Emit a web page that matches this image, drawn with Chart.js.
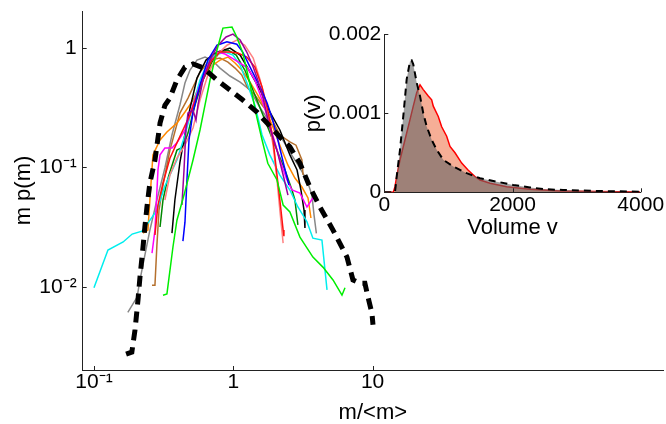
<!DOCTYPE html>
<html>
<head>
<meta charset="utf-8">
<script src="https://cdn.jsdelivr.net/npm/chart.js@4.4.1/dist/chart.umd.min.js"></script>
<style>
    body { margin: 0; background: #fff; }
    #wrap { position: relative; width: 666px; height: 424px; }
    #wrap canvas { position: absolute; left: 0; top: 0; }
</style>
</head>
<body>
<div id="wrap">
    <canvas id="main" width="666" height="424"></canvas>
    <canvas id="inset" width="666" height="424"></canvas>
</div>
<script>
// courbes m p(m) en fonction de m/<m>, points [x, y]
const moyenne = [[0.170,0.00273],[0.187,0.00284],[0.197,0.00434],[0.207,0.00774],[0.214,0.0121],[0.225,0.0215],[0.232,0.0316],[0.240,0.0465],[0.252,0.0738],[0.274,0.115],[0.298,0.234],[0.323,0.33],[0.351,0.38],[0.394,0.537],[0.450,0.689],[0.514,0.731],[0.607,0.68],[0.764,0.537],[0.947,0.443],[1.17,0.365],[1.48,0.290],[1.75,0.234],[2.16,0.179],[2.55,0.148],[3.01,0.108],[3.55,0.068],[4.19,0.0465],[5.20,0.0298],[6.55,0.0177],[7.23,0.0114],[8.11,0.0107],[8.81,0.0107],[9.27,0.0082],[9.90,0.0060],[10.07,0.0048]];
const vert = [[0.313,0.0085],[0.334,0.0087],[0.369,0.0215],[0.394,0.036],[0.443,0.0585],[0.514,0.115],[0.577,0.205],[0.627,0.332],[0.681,0.537],[0.764,0.957],[0.843,1.46],[0.979,1.49],[1.06,1.23],[1.17,0.903],[1.25,0.651],[1.36,0.418],[1.48,0.258],[1.61,0.169],[1.77,0.108],[2.06,0.0782],[2.28,0.0483],[2.55,0.0422],[3.01,0.026],[3.73,0.0177],[4.40,0.0146],[5.20,0.0114],[6.03,0.0085],[6.34,0.0098]];
const cyan = [[0.100,0.0098],[0.126,0.0203],[0.162,0.0237],[0.188,0.0276],[0.221,0.0292],[0.244,0.0341],[0.283,0.0438],[0.323,0.0696],[0.394,0.115],[0.450,0.186],[0.514,0.332],[0.577,0.537],[0.657,0.759],[0.739,0.869],[0.872,0.920],[0.995,0.869],[1.12,0.717],[1.27,0.488],[1.43,0.33],[1.61,0.186],[1.83,0.127],[2.16,0.086],[2.55,0.0645],[2.91,0.0465],[3.38,0.035],[3.73,0.0255],[4.33,0.0246],[4.71,0.0094]];
const bleu = [[0.435,0.0241],[0.450,0.0347],[0.465,0.0782],[0.481,0.169],[0.514,0.290],[0.577,0.488],[0.657,0.789],[0.764,1.05],[0.901,1.12],[1.06,1.07],[1.17,0.920],[1.32,0.689],[1.56,0.469],[1.75,0.345],[1.90,0.258],[2.09,0.169],[2.31,0.104],[2.51,0.071]];
const noir = [[0.363,0.0281],[0.381,0.0532],[0.414,0.11],[0.450,0.19],[0.489,0.31],[0.549,0.557],[0.637,0.789],[0.764,0.920],[0.947,0.994],[1.12,0.869],[1.32,0.626],[1.56,0.443],[1.83,0.290],[2.16,0.205],[2.55,0.127],[2.87,0.0948],[3.06,0.0645],[3.22,0.0438],[3.27,0.031]];
const gris = [[0.175,0.0061],[0.204,0.0082],[0.214,0.0114],[0.232,0.0184],[0.252,0.0298],[0.283,0.0532],[0.323,0.0985],[0.363,0.186],[0.414,0.332],[0.450,0.507],[0.489,0.651],[0.549,0.789],[0.627,0.836],[0.703,0.789],[0.803,0.676],[0.947,0.580],[1.12,0.516],[1.32,0.443],[1.56,0.313],[1.83,0.239],[2.16,0.186],[2.55,0.134],[3.01,0.0985],[3.38,0.0782],[3.67,0.0585],[3.80,0.0398],[3.95,0.028]];
const marron = [[0.261,0.0103],[0.274,0.0103],[0.283,0.0223],[0.293,0.0438],[0.313,0.071],[0.351,0.139],[0.414,0.284],[0.473,0.379],[0.577,0.626],[0.681,0.789],[0.803,0.820],[0.916,0.759],[1.03,0.676],[1.15,0.591],[1.27,0.460],[1.43,0.402],[1.61,0.332],[1.83,0.273],[2.16,0.186],[2.55,0.163],[2.82,0.153],[3.11,0.115],[3.17,0.0861]];
const orange = [[0.225,0.0281],[0.244,0.0298],[0.252,0.0532],[0.265,0.127],[0.298,0.169],[0.334,0.197],[0.394,0.234],[0.450,0.290],[0.514,0.365],[0.577,0.488],[0.637,0.626],[0.715,0.717],[0.803,0.789],[0.916,0.836],[1.03,0.745],[1.15,0.651],[1.32,0.516],[1.50,0.402],[1.69,0.313],[1.90,0.226],[2.16,0.153],[2.47,0.104],[2.77,0.0812],[3.11,0.0683],[3.44,0.0553],[3.61,0.0376]];
const magenta = [[0.261,0.0191],[0.265,0.0191],[0.274,0.0298],[0.288,0.0948],[0.298,0.127],[0.323,0.145],[0.363,0.145],[0.394,0.160],[0.450,0.205],[0.514,0.332],[0.577,0.488],[0.657,0.717],[0.777,0.920],[0.872,0.886],[0.979,0.820],[1.12,0.745],[1.27,0.676],[1.43,0.537],[1.61,0.365],[1.83,0.226],[2.16,0.115],[2.43,0.0782],[2.64,0.0645],[3.01,0.0608],[3.38,0.0465],[3.73,0.0553]];
const violet = [[0.428,0.0483],[0.443,0.0948],[0.457,0.205],[0.473,0.284],[0.514,0.301],[0.540,0.248],[0.558,0.332],[0.606,0.537],[0.681,0.789],[0.777,1.05],[0.888,1.23],[0.995,1.30],[1.12,1.16],[1.25,0.920],[1.39,0.689],[1.50,0.537],[1.63,0.387],[1.83,0.213],[2.06,0.139],[2.28,0.0861],[2.47,0.0585]];
const rouge = [[0.274,0.0271],[0.288,0.0483],[0.313,0.0738],[0.351,0.119],[0.394,0.160],[0.435,0.205],[0.489,0.273],[0.549,0.402],[0.627,0.591],[0.703,0.789],[0.803,0.920],[0.947,0.920],[1.08,0.903],[1.25,0.836],[1.43,0.689],[1.61,0.469],[1.77,0.301],[1.93,0.169],[2.06,0.0861],[2.16,0.0532],[2.28,0.0298],[2.31,0.0265]];
const saumon = [[0.323,0.0532],[0.351,0.0861],[0.394,0.119],[0.450,0.153],[0.514,0.213],[0.577,0.365],[0.657,0.591],[0.764,0.869],[0.901,1.05],[1.06,1.16],[1.21,1.05],[1.39,0.820],[1.56,0.537],[1.75,0.301],[1.93,0.153],[2.06,0.0782],[2.16,0.0438],[2.28,0.0232]];
const vertFonce = [[0.298,0.0316],[0.313,0.0532],[0.334,0.0752],[0.351,0.0912],[0.394,0.139],[0.435,0.147],[0.473,0.193],[0.531,0.332],[0.606,0.537],[0.703,0.759],[0.803,0.920],[0.916,0.957],[1.05,0.869],[1.21,0.651],[1.43,0.402],[1.69,0.248],[1.99,0.153],[2.35,0.0948],[2.64,0.0645],[2.77,0.0532],[2.91,0.0329]];

const xTickVals = [0.1, 1, 10];
const xTickLabels = ['10⁻¹', '1', '10'];
const yTickVals = [0.01, 0.1, 1];
const yTickLabels = ['10⁻²', '10⁻¹', '1'];

// encart : distribution des volumes
const moyenneV = [0, 167, 193, 245, 296, 349, 401, 427, 452, 505, 557, 608, 661, 739, 817, 920, 1076, 1285, 1493, 1753, 2012, 2273, 2533, 2788, 3318, 3989];
const moyenneP = [0, 0, 0.000198, 0.000538, 0.000962, 0.00143, 0.00166, 0.00167, 0.00162, 0.00139, 0.00122, 0.00100, 0.000834, 0.000665, 0.000538, 0.000411, 0.000326, 0.000242, 0.000178, 0.000135, 0.000093, 0.000061, 0.000038, 0.000029, 0.000017, 0.000008];
const rougeV = [0, 140, 167, 193, 245, 323, 401, 452, 505, 557, 608, 686, 739, 764, 842, 895, 973, 1025, 1103, 1207, 1310, 1414, 1493, 1649, 1909, 2273, 2741, 3318, 3989];
const rougeP = [0, 0, 0.000071, 0.000198, 0.000411, 0.000665, 0.00092, 0.00109, 0.00126, 0.00136, 0.00130, 0.00122, 0.00117, 0.00109, 0.00096, 0.00083, 0.00071, 0.00058, 0.00050, 0.00037, 0.00028, 0.00020, 0.000156, 0.000114, 0.000071, 0.000038, 0.000017, 0.000010, 0.000004];
const insetXTicks = [0, 2000, 4000];
const insetYTicks = [0, 0.001, 0.002];

Chart.defaults.font.family = '"Liberation Sans", Arial, sans-serif';
Chart.defaults.color = '#000';

// petits traits de graduation vers l'intérieur
const petitsTraits = {
    id: 'petitsTraits',
    afterDraw(chart) {
        const ctx = chart.ctx;
        ctx.save();
        ctx.strokeStyle = '#222';
        ctx.lineWidth = 1;
        Object.values(chart.scales).forEach(s => {
            s.ticks.forEach(t => {
                const p = Math.round(s.getPixelForValue(t.value)) + 0.5;
                ctx.beginPath();
                if (s.isHorizontal()) {
                    ctx.moveTo(p, s.top);
                    ctx.lineTo(p, s.top - 4);
                } else {
                    ctx.moveTo(s.right, p);
                    ctx.lineTo(s.right + 4, p);
                }
                ctx.stroke();
            });
        });
        ctx.restore();
    }
};

function taille(size) {
    return function (scale) {
        if (scale.isHorizontal()) scale.height = size; else scale.width = size;
        scale.paddingLeft = 0;
        scale.paddingRight = 0;
        scale.paddingTop = 0;
        scale.paddingBottom = 0;
    };
}

function courbe(points, color) {
    return {
        data: points.map(p => ({ x: p[0], y: p[1] })),
        borderColor: color,
        borderWidth: 1.5,
        pointRadius: 0,
        fill: false
    };
}

const series = [
    { data: moyenne.map(p => ({ x: p[0], y: p[1] })), borderColor: '#000', borderWidth: 5, borderDash: [11, 7], pointRadius: 0, fill: false },
    courbe(vert, '#00ee00'),
    courbe(violet, '#990099'),
    courbe(bleu, '#0000ff'),
    courbe(rouge, '#ff1010'),
    courbe(saumon, '#ff8080'),
    courbe(magenta, '#ff00ff'),
    courbe(cyan, '#00eeee'),
    courbe(noir, '#000000'),
    courbe(vertFonce, '#008800'),
    courbe(orange, '#ff8800'),
    courbe(marron, '#b5702d'),
    courbe(gris, '#888888')
];

new Chart(document.getElementById('main'), {
    type: 'line',
    data: { datasets: series },
    plugins: [petitsTraits],
    options: {
        responsive: false,
        animation: false,
        events: [],
        layout: { padding: { left: 0, right: 3, top: 11, bottom: 0 } },
        plugins: { legend: { display: false }, tooltip: { enabled: false } },
        scales: {
            x: {
                type: 'logarithmic',
                min: 0.083,
                max: 1216,
                afterFit: taille(54),
                afterBuildTicks: s => { s.ticks = xTickVals.map(v => ({ value: v })); },
                ticks: { callback: (v, i) => xTickLabels[i], padding: 2, maxRotation: 0, autoSkip: false, font: { size: 21, lineHeight: 1 } },
                grid: { display: false, drawTicks: false },
                border: { display: true, color: '#222', width: 1 },
                title: { display: true, text: 'm/<m>', font: { size: 22, lineHeight: 1 }, padding: { top: 0, bottom: 0 } }
            },
            y: {
                type: 'logarithmic',
                min: 0.00201,
                max: 2.03,
                afterFit: taille(82.7),
                afterBuildTicks: s => { s.ticks = yTickVals.map(v => ({ value: v })); },
                ticks: { callback: (v, i) => yTickLabels[i], padding: 6, autoSkip: false, font: { size: 21, lineHeight: 1 } },
                grid: { display: false, drawTicks: false },
                border: { display: true, color: '#222', width: 1 },
                title: { display: true, text: 'm p(m)', font: { size: 22, lineHeight: 1 }, padding: { top: 13, bottom: 0 } }
            }
        }
    }
});

new Chart(document.getElementById('inset'), {
    type: 'line',
    data: {
        datasets: [
            {
                data: moyenneV.map((v, i) => ({ x: v, y: moyenneP[i] })),
                borderColor: '#000',
                borderWidth: 2,
                borderDash: [7, 5],
                backgroundColor: 'rgba(100,100,100,0.6)',
                fill: 'origin',
                pointRadius: 0
            },
            {
                data: rougeV.map((v, i) => ({ x: v, y: rougeP[i] })),
                borderColor: '#ff0000',
                borderWidth: 1.5,
                backgroundColor: 'rgba(240,120,80,0.6)',
                fill: 'origin',
                pointRadius: 0
            }
        ]
    },
    plugins: [petitsTraits],
    options: {
        responsive: false,
        animation: false,
        events: [],
        layout: { padding: { left: 303, right: 25.3, top: 34.3, bottom: 185 } },
        plugins: { legend: { display: false }, tooltip: { enabled: false } },
        scales: {
            x: {
                type: 'linear',
                min: 0,
                max: 4000,
                afterFit: taille(46.7),
                afterBuildTicks: s => { s.ticks = insetXTicks.map(v => ({ value: v })); },
                ticks: { callback: v => String(v), padding: 2, maxRotation: 0, autoSkip: false, font: { size: 21, lineHeight: 1 } },
                grid: { display: false, drawTicks: false },
                border: { display: true, color: '#222', width: 1 },
                title: { display: true, text: 'Volume v', font: { size: 22, lineHeight: 1 }, padding: { top: 0, bottom: 0 } }
            },
            y: {
                type: 'linear',
                min: 0,
                max: 0.002,
                afterFit: taille(81.3),
                afterBuildTicks: s => { s.ticks = insetYTicks.map(v => ({ value: v })); },
                ticks: { callback: v => String(v), padding: 3, autoSkip: false, font: { size: 21, lineHeight: 1 } },
                grid: { display: false, drawTicks: false },
                border: { display: true, color: '#222', width: 1 },
                title: { display: true, text: 'p(v)', font: { size: 22, lineHeight: 1 }, padding: { top: 0, bottom: 0 } }
            }
        }
    }
});
</script>
</body>
</html>
